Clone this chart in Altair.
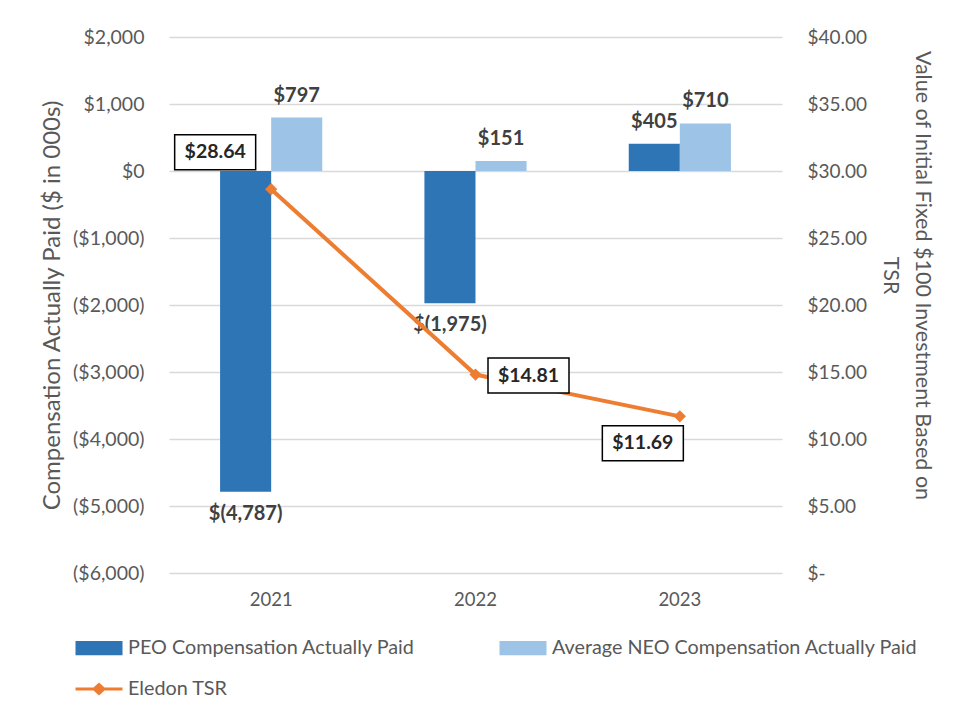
import altair as alt
import pandas as pd

# ---------------- data ----------------
years = ["2021", "2022", "2023"]
peo_cap = [-4787, -1975, 405]
neo_cap = [797, 151, 710]
tsr = [28.64, 14.81, 11.69]
series_names = [
    "PEO Compensation Actually Paid",
    "Average NEO Compensation Actually Paid",
    "Eledon TSR",
]
left_ticks = [-6000, -5000, -4000, -3000, -2000, -1000, 0, 1000, 2000]
right_ticks = [0, 5, 10, 15, 20, 25, 30, 35, 40]

# ---------------- styles ----------------
colors = ["#2E75B6", "#9DC3E6", "#ED7D31"]
FONT = "Lato"
TXT = "#595959"
LBL = "#404040"
# offsets of the boxed TSR labels from their points (px), per year
box_offsets = {"2021": (-56, -37), "2022": (53, 1), "2023": (-37, 27)}


def money(v):
    return f"${v:,}" if v >= 0 else f"$({-v:,})"


bars_df = pd.DataFrame(
    {
        "year": years * 2,
        "series": [series_names[0]] * 3 + [series_names[1]] * 3,
        "value": peo_cap + neo_cap,
    }
)
bars_df["label"] = [money(v) for v in bars_df["value"]]

tsr_df = pd.DataFrame(
    {
        "year": years,
        "series": [series_names[2]] * 3,
        "tsr": tsr,
        "label": [f"${v:.2f}" for v in tsr],
    }
)

legend_df = pd.DataFrame({"series": series_names})

x_enc = alt.X(
    "year:N",
    sort=years,
    scale=alt.Scale(paddingInner=0.5, paddingOuter=0.25),
    axis=alt.Axis(
        title=None,
        labelAngle=0,
        labelFontSize=18.5,
        labelColor=TXT,
        labelPadding=17,
        domain=False,
        ticks=False,
        grid=False,
    ),
)
xoff_enc = alt.XOffset(
    "series:N",
    sort=series_names[:2],
    scale=alt.Scale(domain=series_names[:2], paddingInner=0, paddingOuter=0),
)

left_y = alt.Y(
    "value:Q",
    scale=alt.Scale(domain=[-6000, 2000], nice=False, zero=False),
    axis=alt.Axis(
        values=left_ticks,
        labelExpr="datum.value < 0 ? '($' + format(-datum.value, ',') + ')' : '$' + format(datum.value, ',')",
        title="Compensation Actually Paid ($ in 000s)",
        titleFontSize=24,
        titleFontWeight="normal",
        titleColor=TXT,
        titlePadding=8,
        labelFontSize=19.5,
        labelColor=TXT,
        labelPadding=25,
        domain=False,
        ticks=False,
        grid=True,
        gridColor="#D9D9D9",
        gridWidth=1.3,
    ),
)

rect_path = "M-1.5,-0.45 L1.5,-0.45 L1.5,0.45 L-1.5,0.45 Z"
line_path = (
    "M-1.5,-0.1 L-0.35,-0.1 L0,-0.42 L0.35,-0.1 L1.5,-0.1 L1.5,0.1 "
    "L0.35,0.1 L0,0.42 L-0.35,0.1 L-1.5,0.1 Z"
)

# legend grid fills column by column: order entries so rows read PEO | NEO, then TSR
legend_order = [series_names[0], series_names[2], series_names[1]]
color_scale = alt.Scale(domain=legend_order, range=[colors[0], colors[2], colors[1]])
legend_def = alt.Legend(
    title=None,
    orient="none",
    legendX=-86,
    legendY=595,
    columns=2,
    columnPadding=83,
    rowPadding=15,
    symbolSize=982,
    symbolOpacity=1,
    symbolStrokeWidth=0,
    symbolType=rect_path,
    labelOffset=13,
    labelFontSize=19.8,
    labelColor=TXT,
    labelFont=FONT,
    labelLimit=0,
)
color_enc = alt.Color("series:N", scale=color_scale, legend=legend_def)

bars = (
    alt.Chart(bars_df)
    .mark_bar()
    .encode(x=x_enc, xOffset=xoff_enc, y=left_y, color=color_enc)
)
bar_lbl_pos = (
    alt.Chart(bars_df)
    .transform_filter("datum.value >= 0")
    .mark_text(font=FONT, fontSize=20, fontWeight="bold", color=LBL, dy=-22)
    .encode(x=x_enc, xOffset=xoff_enc, y=alt.Y("value:Q"), text="label:N")
)
bar_lbl_neg = (
    alt.Chart(bars_df)
    .transform_filter("datum.value < 0")
    .mark_text(font=FONT, fontSize=20, fontWeight="bold", color=LBL, dy=22)
    .encode(x=x_enc, xOffset=xoff_enc, y=alt.Y("value:Q"), text="label:N")
)
# invisible layer that gives the legend its symbol shapes
legend_layer = (
    alt.Chart(legend_df)
    .mark_point(filled=True, opacity=0, size=982)
    .encode(
        color=color_enc,
        shape=alt.Shape(
            "series:N",
            scale=alt.Scale(domain=legend_order, range=[rect_path, line_path, rect_path]),
            legend=legend_def,
        ),
    )
)
left = alt.layer(legend_layer, bars, bar_lbl_pos, bar_lbl_neg)

right_y = alt.Y(
    "tsr:Q",
    scale=alt.Scale(domain=[0, 40], nice=False),
    axis=alt.Axis(
        orient="right",
        values=right_ticks,
        labelExpr="datum.value == 0 ? '$-' : '$' + format(datum.value, '.2f')",
        title=["Value of Initial Fixed $100 Investment Based on", "TSR"],
        titleFontSize=21.5,
        titleFontWeight="normal",
        titleColor=TXT,
        titlePadding=12,
        titleLineHeight=32,
        titleY=238,
        labelFontSize=19,
        labelColor=TXT,
        labelPadding=25,
        domain=False,
        ticks=False,
        grid=False,
    ),
)

line = (
    alt.Chart(tsr_df)
    .mark_line(strokeWidth=4)
    .encode(x=x_enc, y=right_y, color=color_enc)
)
pts = (
    alt.Chart(tsr_df)
    .mark_point(shape="diamond", filled=True, size=150, color=colors[2], opacity=1)
    .encode(x=x_enc, y=alt.Y("tsr:Q"))
)

box_path = "M-1,-0.432 L1,-0.432 L1,0.432 L-1,0.432 Z"
box_layers = []
for yr in years:
    dx, dy = box_offsets[yr]
    box = (
        alt.Chart(tsr_df)
        .transform_filter(f"datum.year === '{yr}'")
        .mark_point(
            shape=box_path,
            size=6561,
            filled=True,
            fill="white",
            stroke="black",
            strokeWidth=1.5,
            opacity=1,
            xOffset=dx,
            yOffset=dy,
        )
        .encode(x=x_enc, y=alt.Y("tsr:Q"))
    )
    txt = (
        alt.Chart(tsr_df)
        .transform_filter(f"datum.year === '{yr}'")
        .mark_text(
            font=FONT, fontSize=19.5, fontWeight="bold", color="#262626", dx=dx, dy=dy
        )
        .encode(x=x_enc, y=alt.Y("tsr:Q"), text="label:N")
    )
    box_layers += [box, txt]

right = alt.layer(line, pts, *box_layers)

chart = (
    alt.layer(left, right)
    .resolve_scale(y="independent")
    .properties(
        width=613,
        height=536,
        padding={"left": 32, "top": 19, "right": 5, "bottom": 5},
    )
    .configure_view(stroke=None)
    .configure_axis(labelFont=FONT, titleFont=FONT)
    .configure_text(font=FONT)
)

chart.save("out.html", embed_options={"renderer": "svg", "actions": False})
